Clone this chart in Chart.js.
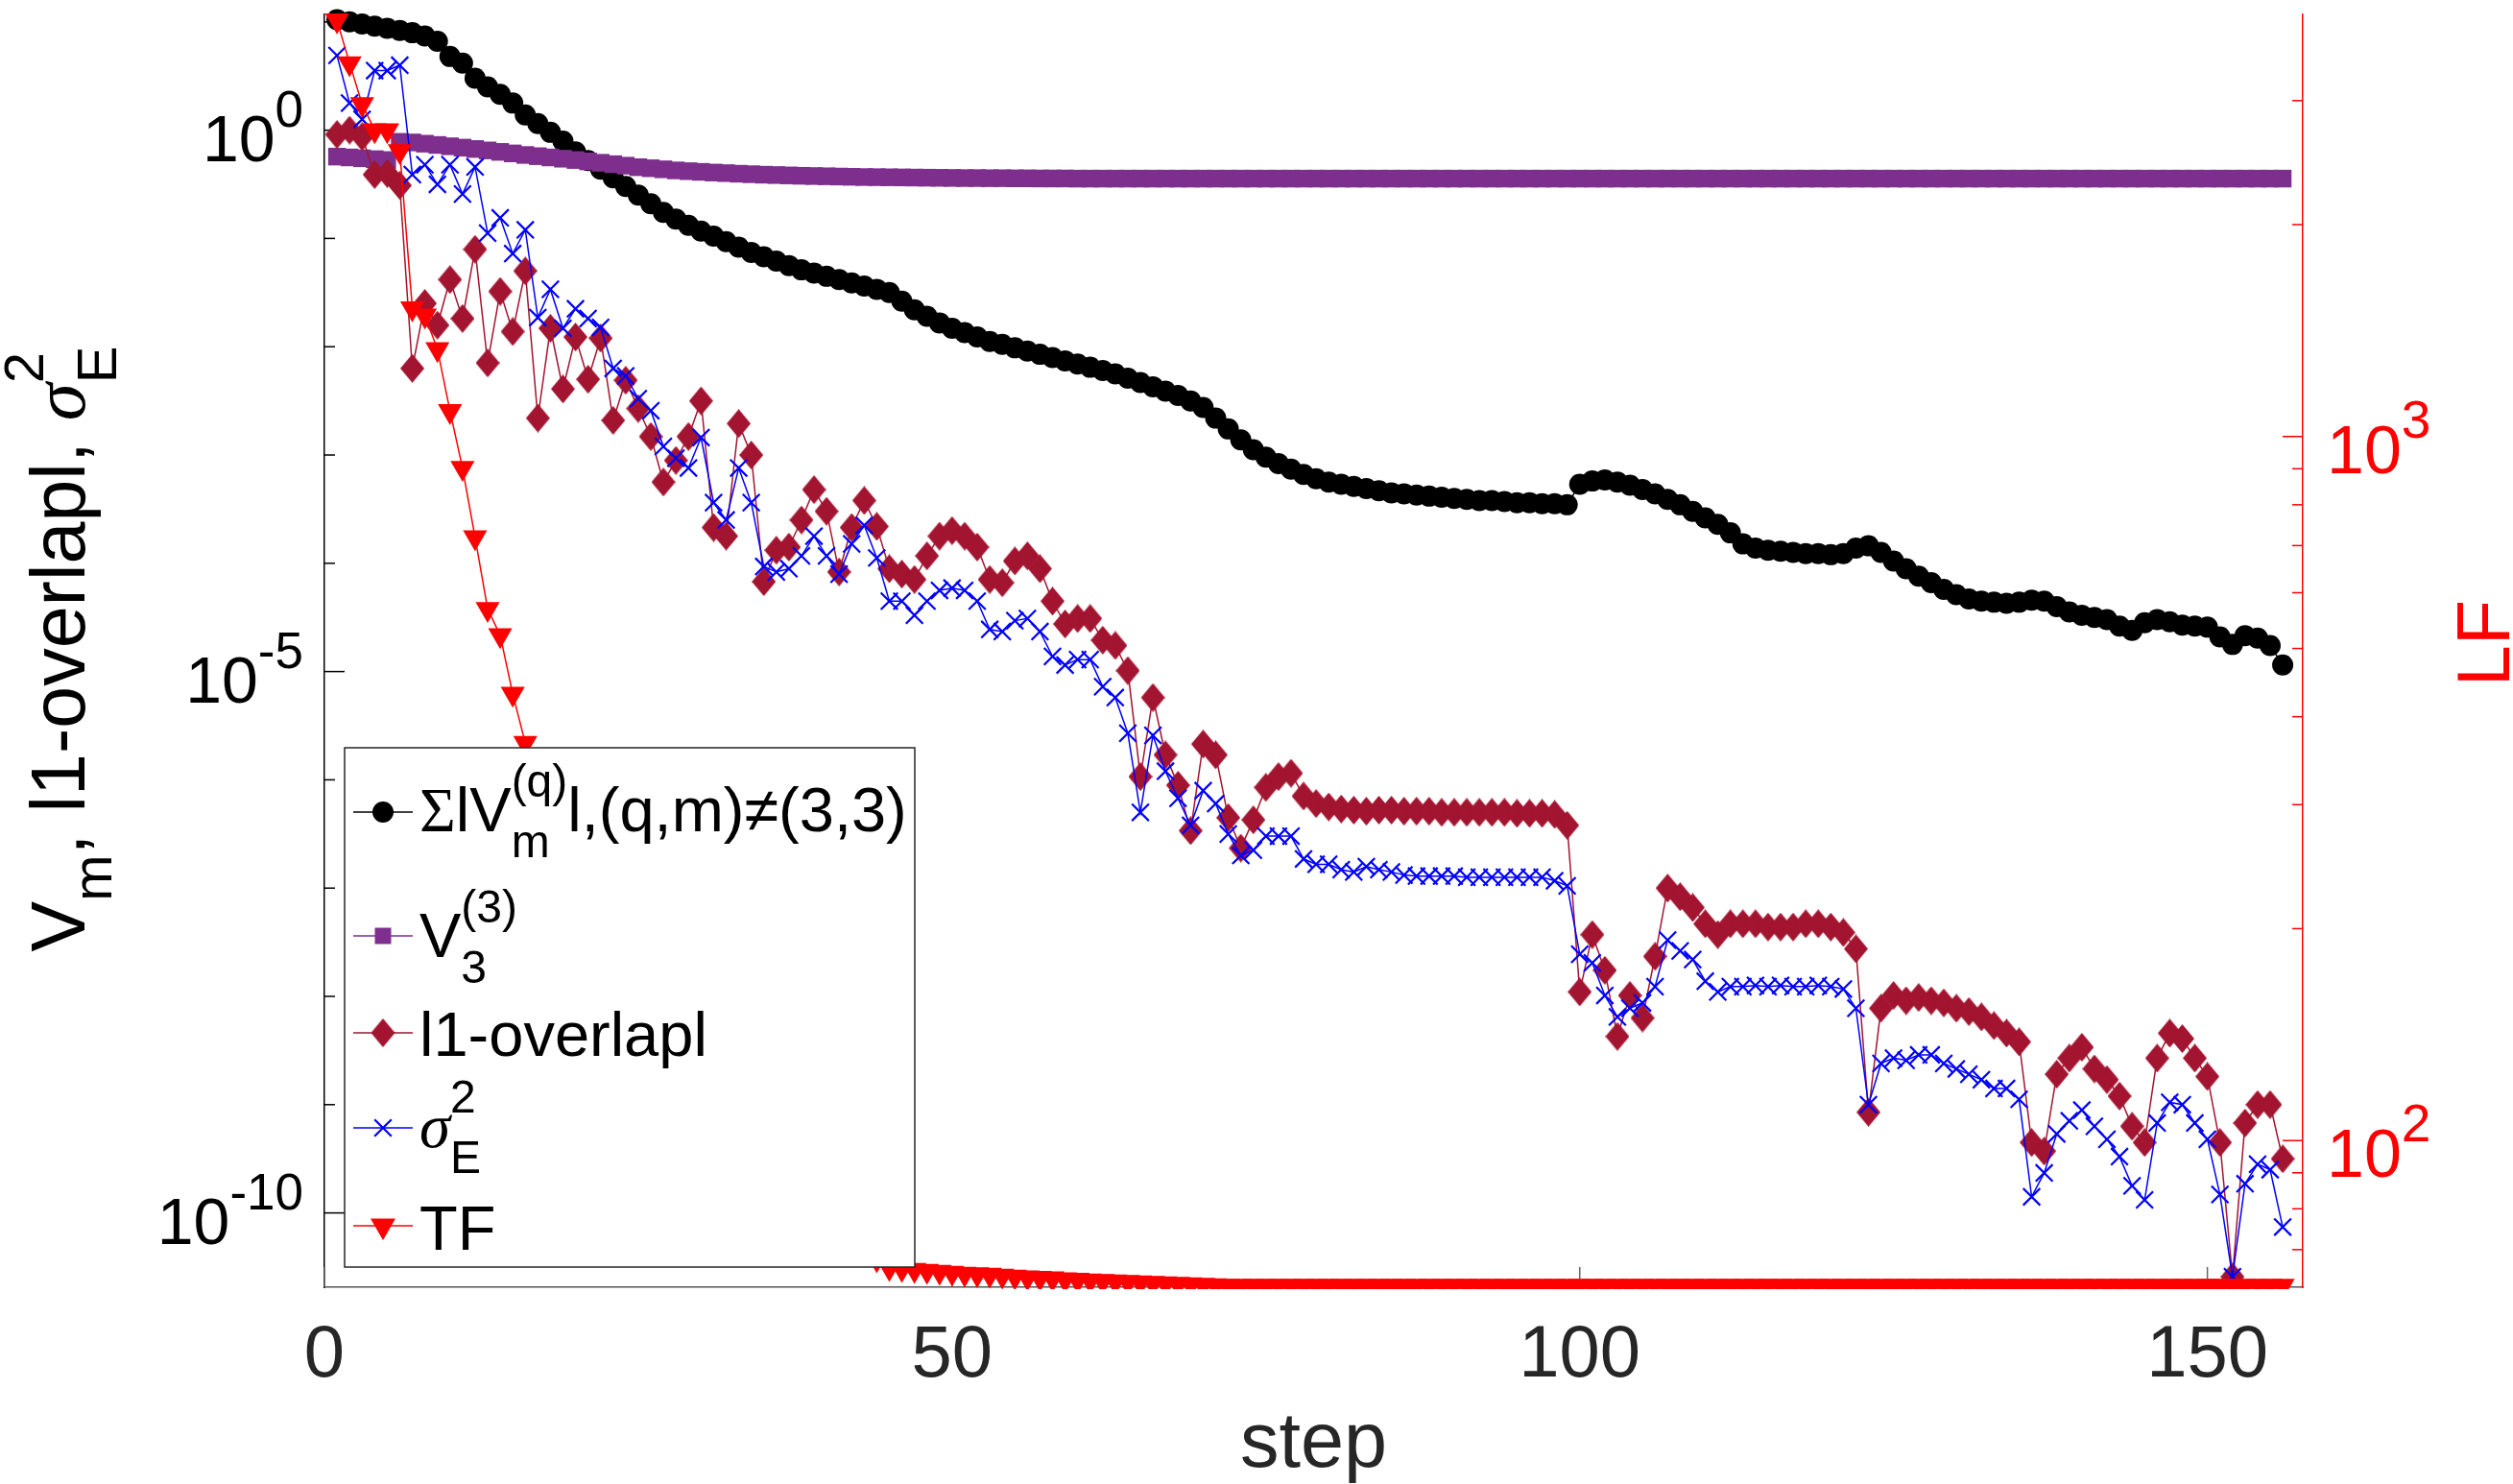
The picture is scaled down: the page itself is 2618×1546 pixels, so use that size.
<!DOCTYPE html>
<html>
<head>
<meta charset="utf-8">
<script src="https://cdn.jsdelivr.net/npm/chart.js@4.4.0/dist/chart.umd.min.js"></script>
<style>
    html, body { margin: 0; padding: 0; background: #fff; }
    #wrap { width: 2618px; height: 1546px; }
</style>
</head>
<body>
<div id="wrap"><canvas id="stepChartCanvas" width="2618" height="1546"></canvas></div>
<script>
// step index (x axis)
const steps = [
    1, 2, 3, 4, 5, 6, 7, 8, 9, 10, 11, 12, 13, 14, 15, 16, 17, 18, 19, 20,
    21, 22, 23, 24, 25, 26, 27, 28, 29, 30, 31, 32, 33, 34, 35, 36, 37, 38, 39, 40,
    41, 42, 43, 44, 45, 46, 47, 48, 49, 50, 51, 52, 53, 54, 55, 56, 57, 58, 59, 60,
    61, 62, 63, 64, 65, 66, 67, 68, 69, 70, 71, 72, 73, 74, 75, 76, 77, 78, 79, 80,
    81, 82, 83, 84, 85, 86, 87, 88, 89, 90, 91, 92, 93, 94, 95, 96, 97, 98, 99, 100,
    101, 102, 103, 104, 105, 106, 107, 108, 109, 110, 111, 112, 113, 114, 115, 116, 117, 118, 119, 120,
    121, 122, 123, 124, 125, 126, 127, 128, 129, 130, 131, 132, 133, 134, 135, 136, 137, 138, 139, 140,
    141, 142, 143, 144, 145, 146, 147, 148, 149, 150, 151, 152, 153, 154, 155, 156
];

// sum |V_m^(q)|, (q,m) != (3,3)  (left axis)
const sumV = [
    10.5, 10, 9.55, 9.12, 8.71, 8.32, 7.94, 7.41, 6.61, 4.79,
    4.17, 3.02, 2.51, 2.14, 1.78, 1.38, 1.15, 0.955, 0.794, 0.631,
    0.525, 0.437, 0.363, 0.302, 0.251, 0.209, 0.174, 0.151, 0.132, 0.117,
    0.105, 0.0933, 0.0832, 0.0741, 0.0676, 0.0617, 0.0562, 0.0513, 0.0479, 0.0447,
    0.0417, 0.0389, 0.0363, 0.0339, 0.0316, 0.0263, 0.0219, 0.0191, 0.0166, 0.0148,
    0.0135, 0.0123, 0.0112, 0.0105, 0.00977, 0.00912, 0.00851, 0.00794, 0.00741, 0.00692,
    0.00646, 0.00603, 0.00562, 0.00513, 0.00468, 0.00427, 0.00389, 0.00355, 0.00316, 0.00275,
    0.00219, 0.00174, 0.00138, 0.00112, 9.55e-4, 8.32e-4, 7.41e-4, 6.61e-4, 6.03e-4, 5.62e-4,
    5.37e-4, 5.13e-4, 4.90e-4, 4.68e-4, 4.47e-4, 4.37e-4, 4.27e-4, 4.17e-4, 4.07e-4, 3.98e-4,
    3.89e-4, 3.80e-4, 3.80e-4, 3.72e-4, 3.63e-4, 3.63e-4, 3.55e-4, 3.55e-4, 3.47e-4, 5.37e-4,
    5.75e-4, 5.89e-4, 5.62e-4, 5.25e-4, 4.79e-4, 4.37e-4, 3.89e-4, 3.47e-4, 3.02e-4, 2.63e-4,
    2.29e-4, 1.91e-4, 1.51e-4, 1.38e-4, 1.32e-4, 1.29e-4, 1.26e-4, 1.23e-4, 1.23e-4, 1.20e-4,
    1.23e-4, 1.38e-4, 1.45e-4, 1.26e-4, 1.05e-4, 8.91e-5, 7.59e-5, 6.61e-5, 5.75e-5, 5.13e-5,
    4.68e-5, 4.47e-5, 4.37e-5, 4.27e-5, 4.37e-5, 4.57e-5, 4.47e-5, 3.98e-5, 3.55e-5, 3.31e-5,
    3.16e-5, 3.02e-5, 2.63e-5, 2.40e-5, 2.82e-5, 3.02e-5, 2.88e-5, 2.69e-5, 2.63e-5, 2.57e-5,
    2.09e-5, 1.78e-5, 2.14e-5, 2.04e-5, 1.74e-5, 1.15e-5
];

// V_3^(3)  (left axis)
const v33 = [
    0.57, 0.56, 0.55, 0.54, 0.53, 0.78, 0.77, 0.75, 0.73, 0.71,
    0.69, 0.67, 0.65, 0.63, 0.61, 0.59, 0.575, 0.56, 0.545, 0.53,
    0.515, 0.50, 0.485, 0.47, 0.455, 0.445, 0.435, 0.425, 0.418, 0.412,
    0.406, 0.401, 0.396, 0.392, 0.388, 0.385, 0.382, 0.379, 0.377, 0.375,
    0.373, 0.371, 0.369, 0.368, 0.367, 0.366, 0.365, 0.364, 0.363, 0.362,
    0.361, 0.361, 0.360, 0.360, 0.359, 0.359, 0.358, 0.358, 0.358, 0.357,
    0.357, 0.357, 0.357, 0.357, 0.357, 0.357, 0.357, 0.357, 0.357, 0.357,
    0.357, 0.357, 0.357, 0.357, 0.357, 0.357, 0.357, 0.357, 0.357, 0.357,
    0.357, 0.357, 0.357, 0.357, 0.357, 0.357, 0.357, 0.357, 0.357, 0.357,
    0.357, 0.357, 0.357, 0.357, 0.357, 0.357, 0.357, 0.357, 0.357, 0.357,
    0.357, 0.357, 0.357, 0.357, 0.357, 0.357, 0.357, 0.357, 0.357, 0.357,
    0.357, 0.357, 0.357, 0.357, 0.357, 0.357, 0.357, 0.357, 0.357, 0.357,
    0.357, 0.357, 0.357, 0.357, 0.357, 0.357, 0.357, 0.357, 0.357, 0.357,
    0.357, 0.357, 0.357, 0.357, 0.357, 0.357, 0.357, 0.357, 0.357, 0.357,
    0.357, 0.357, 0.357, 0.357, 0.357, 0.357, 0.357, 0.357, 0.357, 0.357,
    0.357, 0.357, 0.357, 0.357, 0.357, 0.357
];

// |1-overlap|  (left axis)
const overlap = [
    0.912, 1.0, 0.871, 0.389, 0.398, 0.309, 0.00631, 0.0251, 0.0158, 0.0417,
    0.0182, 0.0794, 0.00708, 0.0324, 0.0138, 0.0501, 0.00219, 0.0148, 0.00407, 0.0123,
    0.00501, 0.0120, 0.00209, 0.00490, 0.00269, 0.00148, 5.62e-4, 8.91e-4, 0.00148, 0.00316,
    2.14e-4, 1.78e-4, 0.00195, 0.001, 6.76e-5, 1.32e-4, 1.41e-4, 2.51e-4, 4.79e-4, 3.02e-4,
    8.32e-5, 2.14e-4, 3.80e-4, 2.19e-4, 8.91e-5, 7.94e-5, 7.08e-5, 1.17e-4, 1.78e-4, 2.00e-4,
    1.78e-4, 1.41e-4, 7.08e-5, 6.61e-5, 1.05e-4, 1.17e-4, 8.91e-5, 4.47e-5, 2.75e-5, 3.09e-5,
    3.09e-5, 1.95e-5, 1.74e-5, 1.02e-5, 1.07e-6, 5.75e-6, 1.70e-6, 8.91e-7, 3.39e-7, 2.14e-6,
    1.70e-6, 4.47e-7, 2.34e-7, 4.27e-7, 8.51e-7, 1.07e-6, 1.15e-6, 7.08e-7, 6.03e-7, 5.62e-7,
    5.37e-7, 5.25e-7, 5.13e-7, 5.25e-7, 5.25e-7, 5.13e-7, 5.13e-7, 5.13e-7, 5.01e-7, 5.01e-7,
    5.01e-7, 5.01e-7, 5.01e-7, 5.01e-7, 4.90e-7, 4.90e-7, 4.90e-7, 4.79e-7, 3.80e-7, 1.10e-8,
    3.72e-8, 1.74e-8, 4.27e-9, 1.02e-8, 6.31e-9, 2.34e-8, 1.00e-7, 8.32e-8, 6.61e-8, 4.68e-8,
    3.72e-8, 4.68e-8, 4.68e-8, 4.68e-8, 4.37e-8, 4.37e-8, 4.37e-8, 4.68e-8, 4.68e-8, 4.37e-8,
    3.89e-8, 2.75e-8, 8.51e-10, 7.76e-9, 1.02e-8, 9.12e-9, 9.77e-9, 9.12e-9, 8.71e-9, 7.76e-9,
    7.24e-9, 6.46e-9, 5.37e-9, 4.57e-9, 3.80e-9, 4.47e-10, 3.72e-10, 1.91e-9, 2.69e-9, 3.39e-9,
    2.14e-9, 1.70e-9, 1.20e-9, 6.31e-10, 4.47e-10, 2.69e-9, 4.57e-9, 4.07e-9, 2.69e-9, 1.82e-9,
    4.47e-10, 2.57e-11, 6.76e-10, 1.00e-9, 1.00e-9, 3.16e-10
];

// sigma_E^2  (left axis)
const sigmaE2 = [
    4.90, 1.78, 1.26, 3.55, 3.55, 3.98, 0.389, 0.479, 0.316, 0.479,
    0.257, 0.457, 0.112, 0.155, 0.0724, 0.120, 0.0186, 0.0339, 0.0148, 0.0224,
    0.0182, 0.0151, 0.00631, 0.00537, 0.00331, 0.00257, 0.00120, 9.33e-4, 7.59e-4, 0.00145,
    3.63e-4, 2.51e-4, 7.59e-4, 3.63e-4, 9.33e-5, 8.32e-5, 8.91e-5, 1.17e-4, 1.78e-4, 1.17e-4,
    7.94e-5, 1.51e-4, 2.24e-4, 1.12e-4, 4.47e-5, 4.47e-5, 3.31e-5, 4.47e-5, 5.62e-5, 5.89e-5,
    5.62e-5, 4.47e-5, 2.45e-5, 2.34e-5, 2.95e-5, 3.09e-5, 2.34e-5, 1.38e-5, 1.15e-5, 1.29e-5,
    1.29e-5, 7.24e-6, 5.75e-6, 2.69e-6, 5.01e-7, 2.57e-6, 1.20e-6, 6.76e-7, 3.80e-7, 7.94e-7,
    6.03e-7, 3.16e-7, 2.00e-7, 2.24e-7, 3.02e-7, 3.02e-7, 3.02e-7, 1.86e-7, 1.66e-7, 1.66e-7,
    1.48e-7, 1.41e-7, 1.58e-7, 1.48e-7, 1.41e-7, 1.32e-7, 1.29e-7, 1.29e-7, 1.29e-7, 1.29e-7,
    1.26e-7, 1.26e-7, 1.26e-7, 1.26e-7, 1.26e-7, 1.26e-7, 1.26e-7, 1.17e-7, 1.05e-7, 2.45e-8,
    2.04e-8, 1.02e-8, 6.46e-9, 7.76e-9, 8.71e-9, 1.23e-8, 3.31e-8, 2.63e-8, 2.19e-8, 1.38e-8,
    1.10e-8, 1.23e-8, 1.23e-8, 1.26e-8, 1.23e-8, 1.26e-8, 1.23e-8, 1.23e-8, 1.26e-8, 1.23e-8,
    1.17e-8, 7.76e-9, 1.00e-9, 2.40e-9, 2.69e-9, 2.57e-9, 2.88e-9, 2.88e-9, 2.40e-9, 2.14e-9,
    1.91e-9, 1.70e-9, 1.41e-9, 1.41e-9, 1.12e-9, 1.41e-10, 2.34e-10, 5.37e-10, 7.08e-10, 8.91e-10,
    6.31e-10, 4.79e-10, 3.31e-10, 1.78e-10, 1.32e-10, 6.76e-10, 1.05e-9, 1.00e-9, 6.76e-10, 4.79e-10,
    1.48e-10, 2.57e-11, 1.86e-10, 2.82e-10, 2.51e-10, 7.41e-11
];

// TF  (right axis, LF)
const tf = [
    3900, 3390, 2965, 2723, 2723, 2543, 1521, 1485, 1331, 1087,
    902, 719, 569, 522, 431, 367, 313, 272, 240, 212,
    190, 173, 158, 146, 135, 126, 119, 112, 106, 101.6,
    97.2, 93.4, 90.0, 86.9, 84.3, 82.0, 79.7, 77.8, 75.9, 74.0,
    72.1, 70.6, 69.1, 67.8, 65.9, 65.7, 65.5, 65.3, 65.1, 64.9,
    64.7, 64.6, 64.5, 64.3, 64.1, 63.9, 63.8, 63.7, 63.5, 63.4,
    63.3, 63.2, 63.1, 63.0, 62.9, 62.8, 62.7, 62.6, 62.5, 62.4,
    62.3, 62.2, 62.2, 62.2, 62.2, 62.2, 62.2, 62.2, 62.2, 62.2,
    62.2, 62.2, 62.2, 62.2, 62.2, 62.2, 62.2, 62.2, 62.2, 62.2,
    62.2, 62.2, 62.2, 62.2, 62.2, 62.2, 62.2, 62.2, 62.2, 62.2,
    62.2, 62.2, 62.2, 62.2, 62.2, 62.2, 62.2, 62.2, 62.2, 62.2,
    62.2, 62.2, 62.2, 62.2, 62.2, 62.2, 62.2, 62.2, 62.2, 62.2,
    62.2, 62.2, 62.2, 62.2, 62.2, 62.2, 62.2, 62.2, 62.2, 62.2,
    62.2, 62.2, 62.2, 62.2, 62.2, 62.2, 62.2, 62.2, 62.2, 62.2,
    62.2, 62.2, 62.2, 62.2, 62.2, 62.2, 62.2, 62.2, 62.2, 62.2,
    62.2, 62.2, 62.2, 62.2, 62.2, 62.2
];

// ticks
const xTicks = [0, 50, 100, 150];
const leftTicks = [10, 1, 0.1, 0.01, 1e-3, 1e-4, 1e-5, 1e-6, 1e-7, 1e-8, 1e-9, 1e-10];
const leftLabelTicks = [1, 1e-5, 1e-10];
const leftLabelExp = ['0', '-5', '-10'];
const rightTicks = [70, 80, 90, 100, 200, 300, 400, 500, 600, 700, 800, 900, 1000, 2000, 3000];
const rightLabelTicks = [100, 1000];
const rightLabelExp = ['2', '3'];

const SANS = "'Liberation Sans', Arial, Helvetica, sans-serif";
const SERIF = "'Liberation Serif', 'Times New Roman', serif";

const C_BLACK = '#000000';
const C_PURPLE = '#7E2F8E';
const C_DRED = '#A2142F';
const C_BLUE = '#0000FF';
const C_RED = '#FF0000';
const C_AXIS = '#262626';

function toPoints(values) {
    return steps.map((s, i) => ({ x: s, y: values[i] }));
}

// MATLAB-like diamond (slightly taller than wide)
function makeDiamond(w, h, color) {
    const c = document.createElement('canvas');
    c.width = w;
    c.height = h;
    const g = c.getContext('2d');
    g.fillStyle = color;
    g.beginPath();
    g.moveTo(w / 2, 0);
    g.lineTo(w, h / 2);
    g.lineTo(w / 2, h);
    g.lineTo(0, h / 2);
    g.closePath();
    g.fill();
    return c;
}
const diamondImg = makeDiamond(25, 30, C_DRED);

function fontFor(run, size) {
    return (run.it ? 'italic ' : '') + size + 'px ' + (run.serif ? SERIF : SANS);
}

// rich text: {t} normal run, {sup, sub} stacked small run
function runsWidth(ctx, runs, S, k) {
    const s = Math.round(S * (k || 0.74));
    let w = 0;
    runs.forEach(r => {
        if (r.t !== undefined) {
            ctx.font = fontFor(r, S);
            w += ctx.measureText(r.t).width;
        } else {
            ctx.font = s + 'px ' + SANS;
            w += Math.max(r.sup ? ctx.measureText(r.sup).width : 0, r.sub ? ctx.measureText(r.sub).width : 0);
        }
    });
    return w;
}

function drawRuns(ctx, runs, x, y, S, k) {
    const s = Math.round(S * (k || 0.74));
    ctx.textAlign = 'left';
    ctx.textBaseline = 'alphabetic';
    runs.forEach(r => {
        if (r.t !== undefined) {
            ctx.font = fontFor(r, S);
            ctx.fillText(r.t, x, y);
            x += ctx.measureText(r.t).width;
        } else {
            ctx.font = s + 'px ' + SANS;
            const both = r.sup && r.sub;
            let w = 0;
            if (r.sup) {
                ctx.fillText(r.sup, x, y - S * (both ? 0.55 : 0.53));
                w = ctx.measureText(r.sup).width;
            }
            if (r.sub) {
                ctx.fillText(r.sub, x, y + S * (both ? 0.42 : 0.35));
                w = Math.max(w, ctx.measureText(r.sub).width);
            }
            x += w;
        }
    });
}

const legendRows = [
    { y: 846, dy: 20, color: C_BLACK, style: 'circle', radius: 11, rot: 0,
      runs: [{ t: 'Σ', serif: true }, { t: 'lV' }, { sup: '(q)', sub: 'm' }, { t: 'l,(q,m)≠(3,3)' }] },
    { y: 975, dy: 22, color: C_PURPLE, style: 'rect', radius: 12, rot: 0,
      runs: [{ t: 'V' }, { sup: '(3)', sub: '3' }] },
    { y: 1076, dy: 24, color: C_DRED, style: diamondImg, radius: 12, rot: 0,
      runs: [{ t: 'l1-overlapl' }] },
    { y: 1175, dy: 20, color: C_BLUE, style: 'crossRot', radius: 12.5, rot: 0,
      runs: [{ t: 'σ', it: true, serif: true }, { sup: '2', sub: 'E' }] },
    { y: 1277, dy: 25, color: C_RED, style: 'triangle', radius: 15, rot: 180,
      runs: [{ t: 'TF' }] }
];

const decorPlugin = {
    id: 'decor',
    beforeDatasetsDraw(chart) {
        const ctx = chart.ctx;
        const a = chart.chartArea;
        const { x, yL, yR } = chart.scales;
        ctx.save();
        ctx.lineWidth = 1.5;
        ctx.strokeStyle = C_BLACK;
        leftTicks.forEach(v => {
            const py = yL.getPixelForValue(v);
            const len = leftLabelTicks.includes(v) ? 21 : 11;
            ctx.beginPath(); ctx.moveTo(a.left, py); ctx.lineTo(a.left + len, py); ctx.stroke();
        });
        ctx.strokeStyle = C_RED;
        rightTicks.forEach(v => {
            const py = yR.getPixelForValue(v);
            const len = rightLabelTicks.includes(v) ? 21 : 11;
            ctx.beginPath(); ctx.moveTo(a.right, py); ctx.lineTo(a.right - len, py); ctx.stroke();
        });
        ctx.strokeStyle = '#666666';
        xTicks.forEach(v => {
            const px = x.getPixelForValue(v);
            ctx.beginPath(); ctx.moveTo(px, a.bottom); ctx.lineTo(px, a.bottom - 21); ctx.stroke();
        });
        ctx.restore();
    },
    afterDraw(chart) {
        const ctx = chart.ctx;
        const a = chart.chartArea;
        const { x, yL, yR } = chart.scales;
        ctx.save();

        // x tick labels
        ctx.fillStyle = C_AXIS;
        ctx.font = '76px ' + SANS;
        ctx.textAlign = 'center';
        ctx.textBaseline = 'alphabetic';
        xTicks.forEach(v => ctx.fillText(String(v), x.getPixelForValue(v), 1434));

        // left tick labels
        ctx.fillStyle = C_BLACK;
        leftLabelTicks.forEach((v, i) => {
            const runs = [{ t: '10' }, { sup: leftLabelExp[i] }];
            const w = runsWidth(ctx, runs, 68, 0.78);
            drawRuns(ctx, runs, 316 - w, yL.getPixelForValue(v) + 32, 68, 0.78);
        });

        // right tick labels
        ctx.fillStyle = C_RED;
        rightLabelTicks.forEach((v, i) => {
            const runs = [{ t: '10' }, { sup: rightLabelExp[i] }];
            drawRuns(ctx, runs, 2424, yR.getPixelForValue(v) + 38, 70, 0.78);
        });

        // axis titles
        ctx.fillStyle = C_AXIS;
        ctx.font = '81px ' + SANS;
        ctx.textAlign = 'center';
        ctx.fillText('step', (a.left + a.right) / 2, 1528);

        const yRuns = [{ t: 'V' }, { sub: 'm' }, { t: ', l1-overlapl, ' }, { t: 'σ', it: true, serif: true }, { sup: '2', sub: 'E' }];
        ctx.fillStyle = C_BLACK;
        ctx.save();
        ctx.translate(88, 676);
        ctx.rotate(-Math.PI / 2);
        const yw = runsWidth(ctx, yRuns, 79);
        drawRuns(ctx, yRuns, -yw / 2, 0, 79);
        ctx.restore();

        ctx.fillStyle = C_RED;
        ctx.save();
        ctx.translate(2614, 670);
        ctx.rotate(-Math.PI / 2);
        ctx.font = '77px ' + SANS;
        ctx.textAlign = 'center';
        ctx.fillText('LF', 0, 0);
        ctx.restore();

        // legend box
        const lx = 359, ly = 779, lw = 594, lh = 541;
        ctx.fillStyle = '#ffffff';
        ctx.fillRect(lx, ly, lw, lh);
        ctx.strokeStyle = C_AXIS;
        ctx.lineWidth = 1.5;
        ctx.strokeRect(lx, ly, lw, lh);

        legendRows.forEach(row => {
            ctx.strokeStyle = row.color;
            ctx.fillStyle = row.color;
            ctx.lineWidth = 1.5;
            ctx.beginPath(); ctx.moveTo(368, row.y); ctx.lineTo(430, row.y); ctx.stroke();
            ctx.lineWidth = 2.2;
            Chart.helpers.drawPoint(ctx, {
                pointStyle: row.style, radius: row.radius, rotation: row.rot,
                borderWidth: row.style === 'crossRot' ? 2.2 : 0
            }, 399, row.y);
            ctx.fillStyle = C_BLACK;
            drawRuns(ctx, row.runs, 437, row.y + row.dy, 65);
        });

        ctx.restore();
    }
};

const clipBox = { left: 40, top: 40, right: 40, bottom: 2 };

function series(label, values, color, style, radius, axis, order, extra) {
    return Object.assign({
        label: label,
        data: toPoints(values),
        yAxisID: axis,
        borderColor: color,
        backgroundColor: color,
        borderWidth: 1.5,
        pointStyle: style,
        pointRadius: radius,
        pointBackgroundColor: color,
        pointBorderColor: color,
        pointBorderWidth: 0,
        pointHoverRadius: radius,
        tension: 0,
        fill: false,
        order: order,
        clip: clipBox
    }, extra || {});
}

const ctx = document.getElementById('stepChartCanvas').getContext('2d');
const chart = new Chart(ctx, {
    type: 'line',
    data: {
        datasets: [
            series('sumV', sumV, C_BLACK, 'circle', 11, 'yL', 5),
            series('V33', v33, C_PURPLE, 'rect', 13, 'yL', 4),
            series('overlap', overlap, C_DRED, diamondImg, 12, 'yL', 3),
            series('sigmaE2', sigmaE2, C_BLUE, 'crossRot', 12.5, 'yL', 2, { pointBorderWidth: 2.2 }),
            series('TF', tf, C_RED, 'triangle', 14.5, 'yR', 1, { pointRotation: 180 })
        ]
    },
    options: {
        responsive: false,
        animation: false,
        devicePixelRatio: 1,
        events: [],
        layout: { padding: { top: 3, left: 0, right: 0, bottom: 0 } },
        plugins: {
            legend: { display: false },
            tooltip: { enabled: false },
            title: { display: false }
        },
        scales: {
            x: {
                type: 'linear',
                position: 'bottom',
                min: 0,
                max: 157.6,
                grid: { display: false },
                ticks: { display: false },
                border: { color: '#555555', width: 1.5 },
                afterFit: s => { s.height = 205; }
            },
            yL: {
                type: 'logarithmic',
                position: 'left',
                min: 2.06e-11,
                max: 11.8,
                grid: { display: false },
                ticks: { display: false },
                border: { color: C_BLACK, width: 1.5 },
                afterFit: s => { s.width = 338; }
            },
            yR: {
                type: 'logarithmic',
                position: 'right',
                min: 61.9,
                max: 3981,
                grid: { display: false },
                ticks: { display: false },
                border: { color: C_RED, width: 1.5 },
                afterFit: s => { s.width = 219; }
            }
        }
    },
    plugins: [decorPlugin]
});
</script>
</body>
</html>
